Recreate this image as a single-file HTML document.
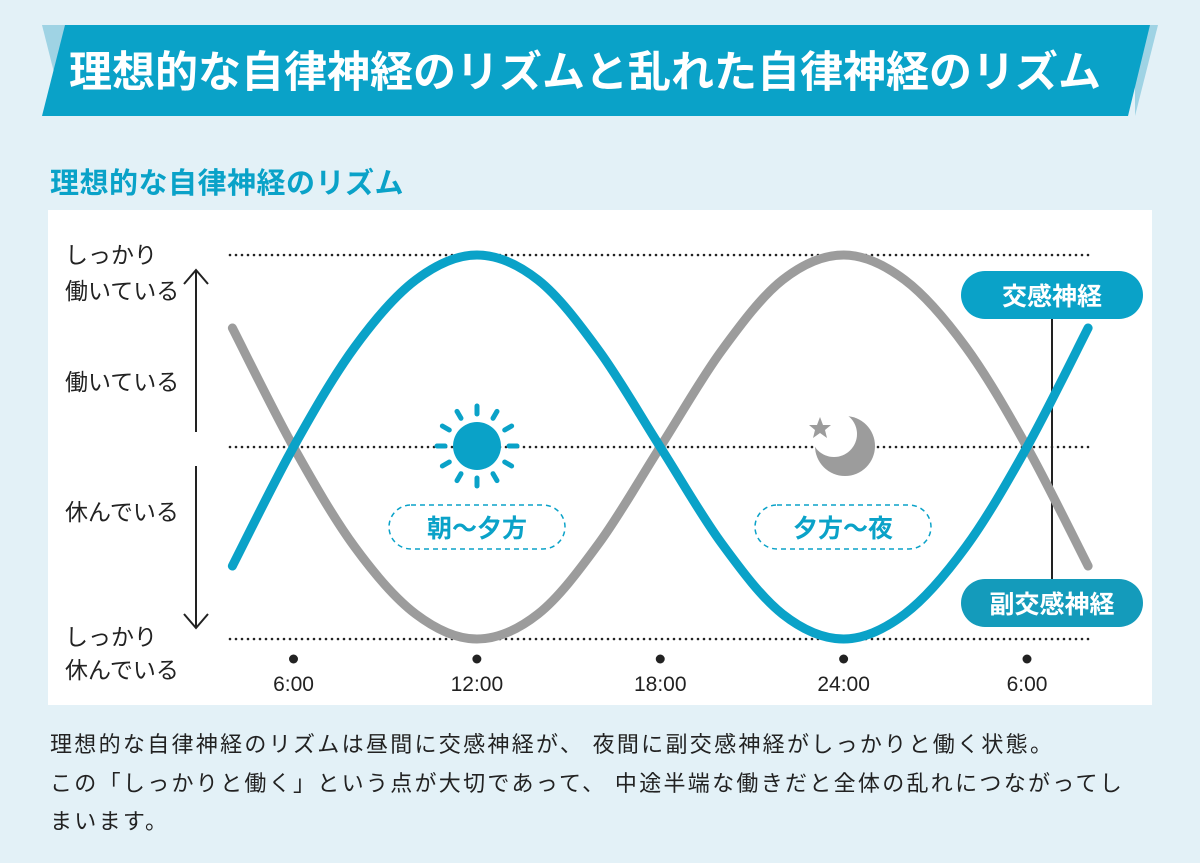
<!DOCTYPE html>
<html><head><meta charset="utf-8">
<style>
html,body{margin:0;padding:0;}
body{width:1200px;height:863px;background:#e3f1f7;position:relative;overflow:hidden;font-family:"Liberation Sans","Noto Sans CJK JP",sans-serif;}
.abs{position:absolute;}
#sub{left:50px;top:160px;font-size:29px;font-weight:bold;color:#0aa2c8;letter-spacing:0.5px;}
#panel{left:48px;top:210px;width:1104px;height:495px;background:#fff;}
#desc{left:50px;top:726px;font-size:22px;line-height:38.5px;color:#222;letter-spacing:2.3px;white-space:nowrap;}
</style></head>
<body>
<svg class="abs" style="left:0;top:0" width="1200" height="130">
  <polygon points="42,25 65,25 65,116" fill="#9fd3e4"/>
  <polygon points="1135,25 1158,25 1135,116" fill="#9fd3e4"/>
  <polygon points="65,25 1150,25 1128,116 42,116" fill="#0aa2c8"/>
  <text x="585" y="87" text-anchor="middle" font-size="43" font-weight="bold" fill="#fff" font-family="Liberation Sans, Noto Sans CJK JP, sans-serif">理想的な自律神経のリズムと乱れた自律神経のリズム</text>
</svg>
<div id="sub" class="abs">理想的な自律神経のリズム</div>
<div id="panel" class="abs"></div>
<svg id="chart" class="abs" style="left:0;top:0" width="1200" height="710" font-family="Liberation Sans, Noto Sans CJK JP, sans-serif"></svg>
<div id="desc" class="abs">理想的な自律神経のリズムは昼間に交感神経が、 夜間に副交感神経がしっかりと働く状態。<br>この「しっかりと働く」という点が大切であって、 中途半端な働きだと全体の乱れにつながってし<br>まいます。</div>
<script>
const hours=[4,6,8,10,12,14,16,18,20,22,24,26,28,30,32];
const sympathetic=[-0.62,0,0.52,0.87,1,0.87,0.5,0,-0.5,-0.87,-1,-0.87,-0.52,0,0.62];
const parasympathetic=[0.62,0,-0.52,-0.87,-1,-0.87,-0.5,0,0.5,0.87,1,0.87,0.52,0,-0.62];
const tickHours=[6,12,18,24,30];
const tickLabels=["6:00","12:00","18:00","24:00","6:00"];
const levels=[1,0,-1];
const NS="http://www.w3.org/2000/svg";
const svg=document.getElementById('chart');
const xS=h=>293.5+(h-6)*(733.5/24);
const yS=v=>447-v*192;
function mk(tag,attrs,parent){const e=document.createElementNS(NS,tag);for(const k in attrs)e.setAttribute(k,attrs[k]);(parent||svg).appendChild(e);return e;}
levels.forEach(v=>{
  const l=mk('line',{x1:230,x2:1093,y1:yS(v),y2:yS(v),stroke:'#222','stroke-width':2.6,'stroke-dasharray':'0 6','stroke-linecap':'round'});
  
  
});
const yl=[["しっかり",263],["働いている",299],["働いている",390],["休んでいる",520],["しっかり",645],["休んでいる",678]];
yl.forEach(a=>{const t=mk('text',{x:65,y:a[1],'font-size':23,fill:'#222'});t.textContent=a[0];
  
  });
const ar=mk('g',{stroke:'#222','stroke-width':2,fill:'none'});


mk('line',{x1:196,y1:270,x2:196,y2:432},ar);mk('polyline',{points:'184,284 196,270 208,284'},ar);
mk('line',{x1:196,y1:466,x2:196,y2:628},ar);mk('polyline',{points:'184,614 196,628 208,614'},ar);
const cn=mk('line',{x1:1052,y1:310,x2:1052,y2:600,stroke:'#222','stroke-width':2});


function pathD(hs,vs){
  const p=hs.map((h,i)=>[xS(h),yS(vs[i])]);
  let d='M'+p[0][0]+','+p[0][1];
  for(let i=0;i<p.length-1;i++){
    const p0=p[Math.max(0,i-1)],p1=p[i],p2=p[i+1],p3=p[Math.min(p.length-1,i+2)];
    d+=' C'+(p1[0]+(p2[0]-p0[0])/6)+','+(p1[1]+(p2[1]-p0[1])/6)+' '+(p2[0]-(p3[0]-p1[0])/6)+','+(p2[1]-(p3[1]-p1[1])/6)+' '+p2[0]+','+p2[1];
  }
  return d;
}
const gp=mk('path',{d:pathD(hours,parasympathetic),stroke:'#9c9c9c','stroke-width':9,fill:'none','stroke-linecap':'round'});


const bp=mk('path',{d:pathD(hours,sympathetic),stroke:'#0aa2c8','stroke-width':9,fill:'none','stroke-linecap':'round'});


tickHours.forEach((h,i)=>{
  const c=mk('circle',{cx:xS(h),cy:659,r:4.5,fill:'#222'});
  
  
  const t=mk('text',{x:xS(h),y:691,'text-anchor':'middle','font-size':21,fill:'#222'});t.textContent=tickLabels[i];
  
  
});
const sun=mk('g',{});


mk('circle',{cx:477,cy:446,r:24,fill:'#0aa2c8'},sun);
for(let k=0;k<12;k++){const a=k*Math.PI/6;const r1=32,r2=40;
  mk('line',{x1:477+r1*Math.cos(a),y1:446+r1*Math.sin(a),x2:477+r2*Math.cos(a),y2:446+r2*Math.sin(a),stroke:'#0aa2c8','stroke-width':5,'stroke-linecap':'round'},sun);}
const moon=mk('g',{});


mk('circle',{cx:845,cy:446,r:30,fill:'#9c9c9c'},moon);
mk('circle',{cx:834,cy:434,r:23,fill:'#fff'},moon);
mk('polygon',{points:'820,417 823,425 831,425 825,430 827,438 820,433 813,438 815,430 809,425 817,425',fill:'#9c9c9c'},moon);
[[477,'朝～夕方','period-label-day'],[843,'夕方～夜','period-label-night']].forEach(a=>{
  const r=mk('rect',{x:a[0]-88,y:505,width:176,height:44,rx:22,fill:'#fff',stroke:'#0aa2c8','stroke-width':1.5,'stroke-dasharray':'5 4'});
  
  
  const t=mk('text',{x:a[0],y:537,'text-anchor':'middle','font-size':25,'font-weight':'bold',fill:'#0aa2c8'});t.textContent=a[1];
  
  
});
[[271,'交感神経','legend-sympathetic','#0aa2c8'],[579,'副交感神経','legend-parasympathetic','#149bbb']].forEach(a=>{
  const r=mk('rect',{x:961,y:a[0],width:182,height:48,rx:24,fill:a[3]});
  
  
  const t=mk('text',{x:1052,y:a[0]+34,'text-anchor':'middle','font-size':25,'font-weight':'bold',fill:'#fff'});t.textContent=a[1];
  
  
});
</script>
</body></html>
